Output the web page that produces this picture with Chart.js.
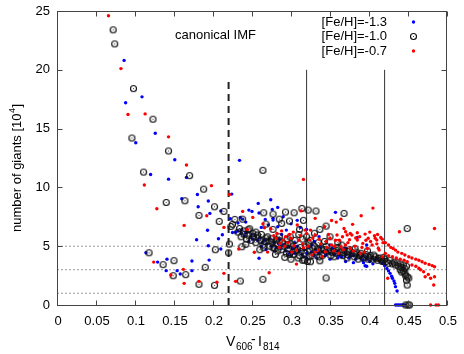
<!DOCTYPE html>
<html><head><meta charset="utf-8">
<script src="https://cdn.jsdelivr.net/npm/chart.js@4"></script>
<style>html,body{margin:0;padding:0;background:#fff}canvas{display:block}</style>
</head><body>
<canvas id="c" width="464" height="354"></canvas>
<script>
const seriesNames = ['[Fe/H]=-1.3', '[Fe/H]=-1.0', '[Fe/H]=-0.7'];

// [Fe/H]=-1.3 (blue dots)
const feh13 = [
[0.086,20.8],[0.109,17.7],[0.088,17.2],[0.126,14.6],[0.101,13.8],[0.151,12.35],[0.120,11.1],[0.143,10.7],[0.166,10.85],[0.234,12.3],
[0.180,9.4],[0.224,9.43],[0.160,9.03],[0.194,8.84],[0.181,8.35],[0.210,8.0],[0.196,7.79],[0.222,7.33],[0.193,6.35],[0.225,6.17],
[0.212,5.98],[0.179,5.55],[0.207,5.63],[0.194,5.04],[0.210,4.76],[0.114,4.44],[0.129,3.65],[0.141,3.9],[0.173,3.74],[0.195,3.82],
[0.140,2.92],[0.154,2.92],[0.173,2.92],[0.158,2.63],
[0.258,8.64],[0.274,8.95],[0.283,8.3],[0.246,8.07],[0.250,7.96],[0.259,7.82],[0.276,8.13],[0.238,7.3],[0.235,7.45],[0.267,7.28],
[0.232,6.97],[0.242,7.05],[0.277,7.22],[0.277,7.37],[0.271,6.8],[0.283,6.65],[0.294,6.37],[0.237,6.4],[0.229,6.18],[0.242,6.14],
[0.250,6.03],[0.268,4.73],[0.259,3.97],[0.357,7.88],[0.385,5.75],[0.397,5.1],[0.320,6.43],[0.336,5.8],[0.327,5.1],[0.300,6.9],
[0.312,6.6],[0.290,7.5],[0.308,7.2],[0.262,6.6],[0.288,6.0],
[0.232,6.3],[0.236,6.1],[0.240,5.9],[0.244,6.2],[0.248,5.8],[0.251,5.6],[0.254,5.9],[0.257,5.5],[0.260,5.7],[0.263,5.3],
[0.266,5.5],[0.269,5.2],[0.272,5.6],[0.275,5.0],[0.278,5.3],[0.281,4.9],[0.284,5.2],[0.287,4.8],[0.290,5.1],[0.293,4.6],
[0.296,4.9],[0.299,4.5],[0.302,4.8],[0.305,4.4],[0.308,5.0],[0.311,4.6],[0.314,4.3],[0.317,4.7],[0.320,4.4],[0.323,4.9],
[0.326,4.5],[0.329,4.2],[0.332,4.7],[0.335,4.4],[0.338,4.9],[0.341,4.5],[0.344,4.2],[0.347,4.6],[0.350,4.4],[0.353,4.8],
[0.356,4.3],[0.359,4.6],[0.362,4.4],[0.365,4.1],[0.368,4.5],[0.371,4.3],[0.374,4.0],[0.377,4.4],[0.380,4.2],[0.383,3.9],
[0.386,4.3],[0.389,4.0],[0.392,3.8],[0.395,4.1],[0.398,3.9],[0.401,3.7],[0.404,4.0],[0.407,3.8],
[0.395,3.34],[0.397,3.3],[0.300,4.2],[0.320,4.0],[0.350,3.9],[0.370,3.7],[0.380,3.6],[0.360,4.0],
[0.246,5.4],[0.262,5.0],[0.279,4.6],[0.297,4.3],[0.316,4.1],[0.333,4.0],[0.345,4.3],[0.362,4.2],[0.376,4.15],[0.393,3.6],
[0.405,3.5],[0.285,5.6],[0.305,5.3],[0.330,5.4],[0.350,5.1],[0.370,4.8],
[0.410,3.97],[0.414,3.75],[0.417,3.55],[0.420,3.35],[0.423,3.1],[0.425,2.9],[0.427,2.69],[0.429,2.45],[0.430,2.27],[0.432,2.05],
[0.433,1.84],[0.434,1.56],[0.436,1.19],
[0.434,0],[0.436,0],[0.438,0],[0.440,0],[0.442,0],[0.444,0],[0.446,0]
];

// [Fe/H]=-1.0 (open circles)
const feh10 = [
[0.072,23.4],[0.074,22.2],[0.098,18.4],[0.123,15.8],[0.096,14.2],[0.143,13.1],[0.111,11.3],[0.170,11.0],[0.188,9.85],[0.164,8.86],
[0.140,8.72],[0.202,8.35],[0.214,7.96],[0.182,7.62],[0.228,7.28],[0.208,7.11],[0.225,6.86],[0.221,5.18],[0.203,4.7],[0.220,4.44],
[0.118,4.44],[0.150,3.77],[0.136,3.43],[0.190,3.2],[0.149,2.49],[0.165,2.58],[0.182,1.76],[0.202,1.67],[0.235,2.04],[0.264,11.45],
[0.265,7.84],[0.277,7.73],[0.238,7.3],[0.268,6.88],[0.223,6.68],[0.247,6.48],[0.277,6.43],[0.314,8.21],[0.322,8.07],[0.332,7.99],
[0.304,7.84],[0.293,7.9],[0.316,7.2],[0.298,7.14],[0.288,6.94],[0.337,6.43],[0.345,6.71],[0.311,6.43],[0.368,7.79],[0.449,6.5],
[0.285,7.3],[0.264,2.18],[0.345,2.3],
[0.232,6.2],[0.236,5.8],[0.240,6.0],[0.243,5.6],[0.246,5.9],[0.249,5.5],[0.252,5.8],[0.255,5.3],[0.258,5.7],[0.261,5.5],
[0.264,5.1],[0.267,5.4],[0.270,5.8],[0.273,5.0],[0.276,5.3],[0.279,4.8],[0.282,5.2],[0.285,5.5],[0.288,4.7],[0.291,5.0],
[0.294,4.4],[0.297,4.8],[0.300,5.2],[0.303,4.3],[0.306,4.6],[0.309,4.0],[0.312,4.9],[0.315,3.8],[0.318,4.4],[0.321,3.7],
[0.324,4.7],[0.327,4.2],[0.330,5.0],[0.333,4.5],[0.336,4.1],[0.339,4.8],[0.342,4.4],[0.345,5.0],[0.348,4.6],[0.351,4.2],
[0.354,4.7],[0.357,4.4],[0.360,4.9],[0.363,4.5],[0.366,4.2],[0.369,4.6],[0.372,4.3],[0.375,4.7],[0.378,4.4],[0.381,4.1],
[0.384,4.5],[0.387,4.2],[0.390,4.4],[0.393,4.0],[0.396,4.3],[0.399,3.9],[0.402,4.2],[0.405,3.9],[0.408,4.1],[0.411,3.8],
[0.414,4.0],[0.417,3.7],[0.420,3.9],
[0.245,6.4],[0.255,6.2],[0.262,6.0],[0.275,5.63],[0.285,5.8],[0.295,5.6],[0.305,5.5],[0.315,5.6],[0.325,5.5],[0.335,5.3],
[0.350,5.8],[0.360,5.3],[0.310,6.0],[0.320,5.8],[0.330,6.1],
[0.292,4.05],[0.300,3.9],[0.317,3.82],[0.325,3.68],[0.337,3.76],[0.280,4.3],[0.260,4.7],[0.242,5.16],[0.237,4.95],[0.265,4.87],[0.277,4.87],
[0.234,6.5],[0.239,6.3],[0.251,6.1],[0.257,5.95],[0.268,5.7],[0.272,5.45],[0.281,5.55],[0.289,5.3],[0.296,5.15],[0.302,4.95],
[0.308,4.75],[0.313,4.55],[0.319,4.95],[0.328,4.85],[0.334,4.75],[0.343,4.7],[0.352,4.5],[0.358,4.65],[0.367,4.45],[0.373,4.55],
[0.382,4.35],[0.389,4.25],[0.395,4.15],[0.401,4.05],[0.406,4.25],[0.412,3.95],[0.416,3.85],[0.419,4.05],[0.283,4.6],[0.298,4.3],
[0.311,4.2],[0.323,4.1],[0.340,4.2],[0.355,4.1],[0.372,4.0],[0.386,3.9],[0.299,5.8],[0.322,5.3],[0.343,5.4],[0.365,5.1],
[0.382,4.8],[0.398,4.6],
[0.422,3.7],[0.425,3.55],[0.427,3.8],[0.430,3.5],[0.432,3.65],[0.434,3.4],[0.436,3.6],[0.438,3.3],[0.440,3.5],[0.442,3.2],
[0.444,3.4],[0.446,3.1],[0.448,3.3],[0.444,2.9],[0.446,2.7],[0.447,2.5],[0.449,2.4],[0.451,2.3],[0.448,2.1],[0.449,1.7],
[0.440,3.0],[0.442,2.8],
[0.447,0],[0.450,0],[0.452,0]
];

// [Fe/H]=-0.7 (red dots)
const feh07 = [
[0.066,24.6],[0.082,20.1],[0.091,16.2],[0.113,16.25],[0.143,14.3],[0.166,11.9],[0.112,10.2],[0.198,10.15],[0.221,9.4],[0.128,8.18],
[0.192,7.59],[0.163,6.77],[0.214,6.6],[0.233,4.76],[0.124,3.65],[0.162,3.03],[0.146,2.55],[0.163,1.84],[0.182,2.01],[0.205,1.93],
[0.214,2.69],[0.229,2.01],[0.316,10.68],
[0.238,7.96],[0.251,7.45],[0.264,6.9],[0.266,6.57],[0.244,6.43],[0.274,6.48],[0.282,6.09],[0.281,5.67],[0.290,5.52],[0.293,5.8],
[0.300,5.67],[0.286,5.24],[0.304,5.04],[0.307,4.67],[0.316,4.87],[0.318,6.37],[0.253,4.48],[0.270,4.5],[0.272,2.74],[0.313,8.0],
[0.331,7.37],[0.308,6.8],[0.320,6.09],[0.325,6.37],[0.307,3.48],[0.296,5.3],[0.298,6.0],[0.303,6.2],[0.310,5.5],[0.312,5.9],
[0.288,6.3],[0.278,5.9],[0.292,5.0],[0.315,5.2],[0.322,5.0],[0.328,5.7],[0.324,5.52],[0.331,5.95],[0.335,4.67],[0.344,4.53],
[0.327,4.25],[0.340,4.1],[0.343,6.65],[0.350,5.67],[0.352,5.1],[0.352,7.19],[0.358,7.05],[0.364,7.3],[0.359,5.95],[0.366,5.8],
[0.370,6.23],[0.370,5.1],[0.376,4.82],[0.378,5.95],[0.379,6.86],[0.385,5.52],[0.385,6.14],[0.390,7.59],[0.392,5.24],[0.395,6.03],
[0.399,5.67],[0.404,5.1],[0.405,8.24],[0.408,5.67],[0.412,4.82],[0.361,4.39],[0.389,4.39],[0.417,4.1],[0.376,6.09],[0.372,5.95],
[0.407,5.89],[0.415,5.75],[0.338,5.2],[0.345,5.4],[0.356,5.0],[0.362,5.5],[0.373,5.3],[0.382,5.0],[0.388,5.8],[0.398,4.8],
[0.402,5.4],[0.410,5.2],[0.346,4.9],[0.355,4.6],[0.367,4.7],[0.380,4.6],[0.394,4.5],[0.413,4.67],[0.418,5.3],
[0.336,5.6],[0.348,6.0],[0.357,5.5],[0.368,6.5],[0.383,5.7],[0.396,5.5],[0.401,6.2],[0.411,6.0],[0.391,4.9],[0.375,5.55],
[0.364,4.95],[0.331,4.5],[0.285,4.9],[0.301,4.5],
[0.410,5.52],[0.417,5.6],[0.421,5.3],[0.425,5.1],[0.428,4.9],[0.431,4.8],[0.434,4.67],[0.437,4.5],[0.442,4.39],[0.446,4.25],
[0.451,4.1],[0.455,4.0],[0.460,3.9],[0.464,3.8],[0.468,3.68],[0.472,3.55],[0.477,3.45],[0.481,3.35],[0.484,3.25],[0.421,4.39],
[0.425,4.2],[0.430,4.1],[0.435,4.0],[0.440,3.9],[0.445,3.8],[0.449,3.68],[0.455,3.4],[0.460,3.3],[0.464,3.12],[0.470,2.83],
[0.472,2.4],[0.479,2.27],[0.484,2.4],[0.483,1.7],[0.476,2.6],[0.466,3.0],[0.439,6.23],[0.484,6.51],[0.424,2.27],
[0.479,0],[0.486,0],[0.489,0]
];

const xTicks = [0, 0.05, 0.1, 0.15, 0.2, 0.25, 0.3, 0.35, 0.4, 0.45, 0.5];
const xTickLabels = ['0', '0.05', '0.1', '0.15', '0.2', '0.25', '0.3', '0.35', '0.4', '0.45', '0.5'];
const yTicks = [0, 5, 10, 15, 20, 25];
const vLineX = [0.22, 0.32, 0.42];
const vLineTop = [19, 20, 20];
const hLineY = [1, 3, 5];
const noteText = 'canonical IMF';

const FONT = '"Liberation Sans", Arial, Helvetica, sans-serif';

function circleImage() {
  const c = document.createElement('canvas');
  c.width = 9; c.height = 9;
  const g = c.getContext('2d');
  g.strokeStyle = '#111';
  g.lineWidth = 1.15;
  g.beginPath(); g.arc(4.5, 4.5, 3.0, 0, Math.PI * 2); g.stroke();
  g.fillStyle = '#444';
  g.fillRect(4, 4, 1, 1);
  return c;
}
const circ = circleImage();
const toPts = arr => arr.map(p => ({x: p[0], y: p[1]}));

const datasets = [
  {label: seriesNames[2], data: toPts(feh07), pointRadius: 1.7, pointBackgroundColor: '#ff0000', pointBorderWidth: 0, showLine: false, clip: false},
  {label: seriesNames[1], data: toPts(feh10), pointStyle: circ, pointRadius: 3, showLine: false, clip: false},
  {label: seriesNames[0], data: toPts(feh13), pointRadius: 1.7, pointBackgroundColor: '#0000ff', pointBorderWidth: 0, showLine: false, clip: false}
];
vLineX.forEach((vx, i) => {
  datasets.push({data: [{x: vx, y: 0}, {x: vx, y: vLineTop[i]}], showLine: true, pointRadius: 0,
    borderColor: i === 0 ? '#222' : '#333', borderWidth: i === 0 ? 2 : 1, borderDash: i === 0 ? [7, 5] : [], fill: false});
});
hLineY.forEach(hy => {
  datasets.push({data: [{x: 0, y: hy}, {x: 0.5, y: hy}], showLine: true, pointRadius: 0,
    borderColor: '#9a9a9a', borderWidth: 1, borderDash: [2, 2], fill: false});
});

const decor = {
  id: 'decor',
  afterDraw(chart) {
    const ctx = chart.ctx, xs = chart.scales.x, ys = chart.scales.y, a = chart.chartArea;
    const L = Math.round(a.left) + 0.5, R = Math.round(a.right) - 0.5, T = Math.round(a.top) + 0.5, B = Math.round(a.bottom) + 0.5;
    ctx.save();
    ctx.strokeStyle = '#444'; ctx.lineWidth = 1;
    ctx.strokeRect(L, T, R - L, B - T);
    ctx.beginPath();
    xTicks.forEach(v => {
      const px = Math.round(xs.getPixelForValue(v)) + 0.5;
      ctx.moveTo(px, B); ctx.lineTo(px, B - 5);
      ctx.moveTo(px, T); ctx.lineTo(px, T + 5);
    });
    yTicks.forEach(v => {
      const py = Math.round(ys.getPixelForValue(v)) + 0.5;
      ctx.moveTo(L, py); ctx.lineTo(L + 5, py);
      ctx.moveTo(R, py); ctx.lineTo(R - 5, py);
    });
    ctx.stroke();
    ctx.fillStyle = '#000';
    ctx.font = '13px ' + FONT;
    ctx.textAlign = 'center'; ctx.textBaseline = 'middle';
    xTicks.forEach((v, i) => ctx.fillText(xTickLabels[i], xs.getPixelForValue(v) + 1, 321));
    ctx.textAlign = 'right';
    yTicks.forEach(v => ctx.fillText(String(v), 50, ys.getPixelForValue(v)));
    ctx.textAlign = 'left';
    ctx.fillText(noteText, 175, 35);
    ctx.textBaseline = 'alphabetic';
    ctx.font = '14px ' + FONT;
    ctx.fillText('V', 226, 346);
    ctx.font = '10px ' + FONT;
    ctx.fillText('606', 236, 350);
    ctx.font = '14px ' + FONT;
    ctx.fillText('-', 251, 344);
    ctx.fillText('I', 258, 346);
    ctx.font = '10px ' + FONT;
    ctx.fillText('814', 263, 350);
    ctx.save();
    ctx.translate(21, 232);
    ctx.rotate(-Math.PI / 2);
    ctx.font = '13px ' + FONT;
    const t1 = 'number of giants [10';
    ctx.fillText(t1, 0, 0);
    let w = ctx.measureText(t1).width;
    ctx.font = '9px ' + FONT;
    ctx.fillText('4', w + 0.5, -6);
    w += ctx.measureText('4').width + 1;
    ctx.font = '13px ' + FONT;
    ctx.fillText(']', w, 0);
    ctx.restore();
    ctx.font = '13px ' + FONT;
    ctx.textAlign = 'right'; ctx.textBaseline = 'middle';
    const ly = [22, 36.5, 51];
    ctx.fillText(seriesNames[0], 387, ly[0]);
    ctx.fillText(seriesNames[1], 387, ly[1]);
    ctx.fillText(seriesNames[2], 387, ly[2]);
    ctx.fillStyle = '#0000ff';
    ctx.beginPath(); ctx.arc(413.5, ly[0], 1.7, 0, Math.PI * 2); ctx.fill();
    ctx.drawImage(circ, 413.5 - 4.5, ly[1] - 4.5);
    ctx.fillStyle = '#ff0000';
    ctx.beginPath(); ctx.arc(413.5, ly[2], 1.7, 0, Math.PI * 2); ctx.fill();
    ctx.restore();
  }
};

new Chart(document.getElementById('c'), {
  type: 'scatter',
  data: {datasets},
  options: {
    responsive: false,
    animation: false,
    events: [],
    layout: {padding: {left: 57, right: 17, top: 11, bottom: 49}, autoPadding: false},
    plugins: {legend: {display: false}, tooltip: {enabled: false}},
    scales: {
      x: {type: 'linear', min: 0, max: 0.5, display: false},
      y: {type: 'linear', min: 0, max: 25, display: false}
    }
  },
  plugins: [decor]
});
</script>
</body></html>
